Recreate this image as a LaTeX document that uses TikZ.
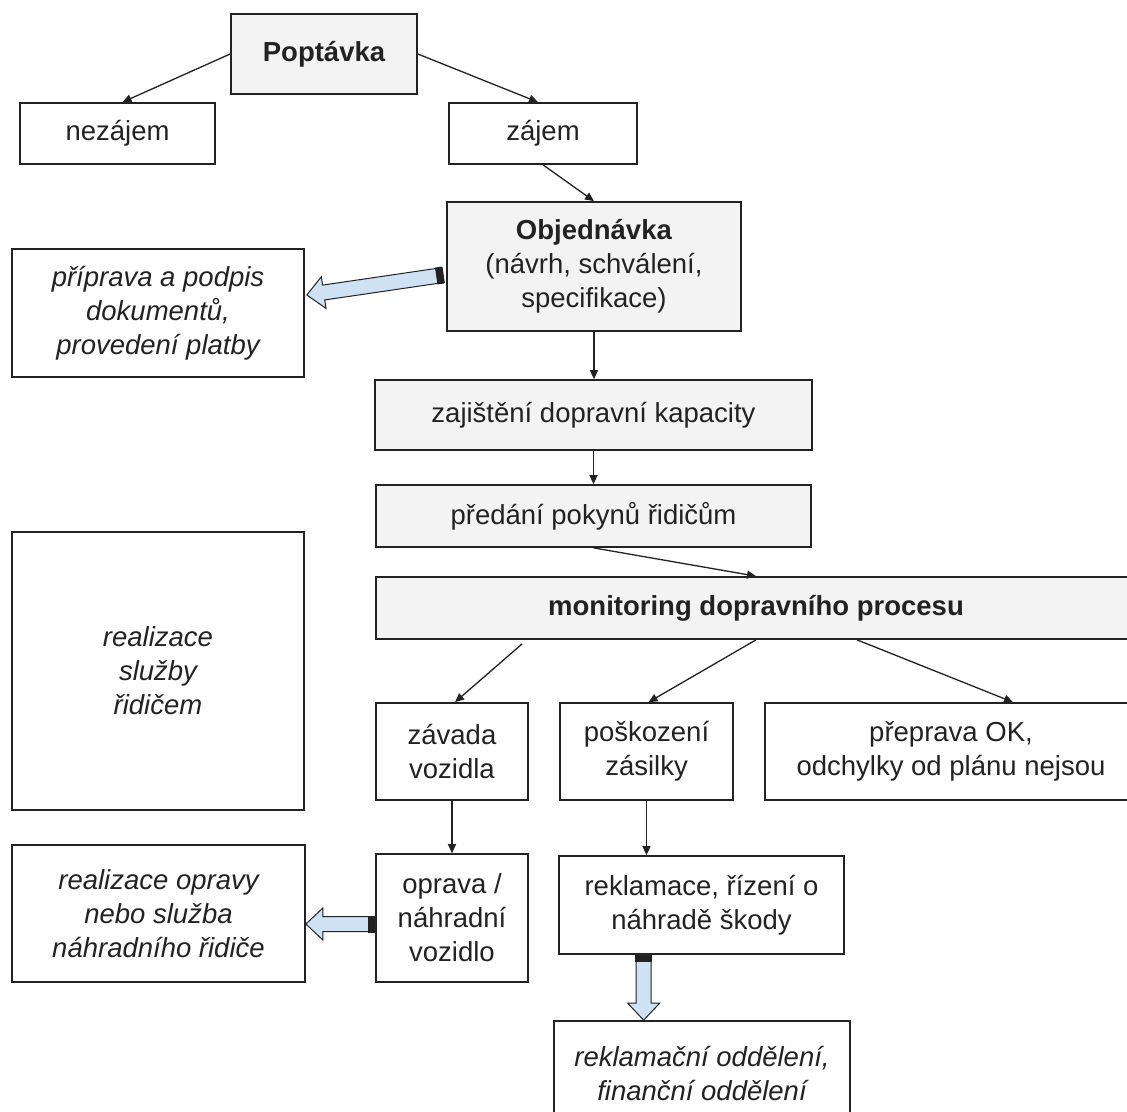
\documentclass[tikz,border=0pt]{standalone}
\usepackage{fontspec}
\setmainfont{Liberation Sans}
\usetikzlibrary{calc,arrows.meta}
\definecolor{boxgray}{HTML}{F3F3F3}
\definecolor{arrowblue}{HTML}{CFE2F3}
\definecolor{ink}{HTML}{222222}
\tikzset{
  box/.style={draw=ink, line width=1.7pt, rectangle, inner sep=0pt, align=center,
    text=ink, font=\fontsize{27.5}{34}\selectfont},
  graybox/.style={box, fill=boxgray},
  boldtext/.style={font=\fontsize{27.5}{34}\selectfont\bfseries},
  italtext/.style={font=\fontsize{27.5}{34}\selectfont\itshape},
  conn/.style={draw=ink, line width=1.3pt, -{Triangle[length=9pt,width=8pt]}},
  blockfill/.style={fill=arrowblue, draw=ink, line width=1pt, line join=miter},
}
\newcommand{\myblockarrow}[2]{%
  \coordinate (bahead) at ($(#2)!17pt!(#1)$);
  \coordinate (batail) at ($(#1)!7pt!(#2)$);
  \draw[blockfill]
    ($(#1)!7.5pt!90:(#2)$) -- ($(bahead)!7.5pt!90:(#2)$) -- ($(bahead)!16pt!90:(#2)$)
    -- (#2) -- ($(bahead)!16pt!-90:(#2)$) -- ($(bahead)!7.5pt!-90:(#2)$)
    -- ($(#1)!7.5pt!-90:(#2)$) -- cycle;
  \fill[ink] ($(#1)!8.5pt!90:(#2)$) -- ($(batail)!8.5pt!90:(#2)$)
    -- ($(batail)!8.5pt!-90:(#2)$) -- ($(#1)!8.5pt!-90:(#2)$) -- cycle;
}
\begin{document}
\begin{tikzpicture}[x=1pt,y=-1pt]
\useasboundingbox (0,0) rectangle (1127,1111);
\clip (0,0) rectangle (1127,1111);
\fill[white] (0,0) rectangle (1127,1111);

% nodes
\node[graybox, boldtext, minimum width=186pt, minimum height=80pt] (pop) at (324,54) {Poptávka};
\node[box, minimum width=195pt, minimum height=61pt] (nez) at (117.5,133.5) {nezájem};
\node[box, minimum width=188pt, minimum height=61pt] (zaj) at (543,133.5) {zájem};
\node[graybox, minimum width=294pt, minimum height=129pt] (obj) at (594,266.5)
  {\textbf{Objednávka}\\(návrh, schválení,\\specifikace)};
\node[box, italtext, minimum width=292pt, minimum height=128pt] (prip) at (158,313)
  {příprava a podpis\\dokumentů,\\provedení platby};
\node[graybox, minimum width=437pt, minimum height=70pt] (kap) at (593.5,415)
  {zajištění dopravní kapacity};
\node[graybox, minimum width=435pt, minimum height=62pt] (pred) at (593.5,516)
  {předání pokynů řidičům};
\node[graybox, boldtext, minimum width=760pt, minimum height=62pt] (mon) at (756,608)
  {monitoring dopravního procesu};
\node[box, italtext, minimum width=292pt, minimum height=278pt] (real) at (158,671)
  {realizace\\služby\\řidičem};
\node[box, minimum width=152pt, minimum height=97pt] (zav) at (452,751.5)
  {závada\\vozidla};
\node[box, minimum width=173pt, minimum height=97pt] (pos) at (646.5,751.5)
  {poškození\\zásilky};
\node[box, minimum width=372pt, minimum height=97pt] (prep) at (951,751.5)
  {přeprava OK,\\odchylky od plánu nejsou};
\node[box, minimum width=152pt, minimum height=128pt] (opr) at (452,918)
  {oprava /\\náhradní\\vozidlo};
\node[box, italtext, minimum width=293pt, minimum height=137pt] (reko) at (158.5,913.5)
  {realizace opravy\\nebo služba\\náhradního řidiče};
\node[box, minimum width=285pt, minimum height=98pt] (rek) at (701.5,905)
  {reklamace, řízení o\\náhradě škody};
\node[box, italtext, minimum width=296pt, minimum height=106pt] (rekl) at (702,1074)
  {reklamační oddělení,\\finanční oddělení};

% thin connectors
\draw[conn] (pop.west) -- ($(nez.north)+(5,0)$);
\draw[conn] (pop.east) -- ($(zaj.north)+(-5,0)$);
\draw[conn] (zaj.south) -- (obj.north);
\draw[conn] (obj.south) -- (obj.south |- kap.north);
\draw[conn] (kap.south) -- (kap.south |- pred.north);
\draw[conn] (pred.south) -- (mon.north);
\coordinate (monA) at ($(mon.south west)+(147,4)$);
\draw[conn] (monA) -- ($(zav.north)+(3,0)$);
\draw[conn] (mon.south) -- ($(pos.north)+(2,0)$);
\draw[conn] ($(mon.south)+(101,0)$) -- ($(prep.north)+(62,0)$);
\draw[conn] (zav.south) -- (opr.north);
\draw[conn] (pos.south) -- (pos.south |- rek.north);

% block arrows
\coordinate (ba1t) at ($(obj.west)+(-3,8.5)$);
\coordinate (ba1h) at ($(prip.east)+(2,-18)$);
\myblockarrow{ba1t}{ba1h}
\coordinate (ba2t) at ($(opr.west)+(0,6)$);
\coordinate (ba2h) at ($(reko.east)+(0,10.5)$);
\myblockarrow{ba2t}{ba2h}
\coordinate (ba3t) at ($(rek.south west)+(85.5,0)$);
\coordinate (ba3h) at (ba3t |- rekl.north);
\myblockarrow{ba3t}{ba3h}
\end{tikzpicture}
\end{document}
